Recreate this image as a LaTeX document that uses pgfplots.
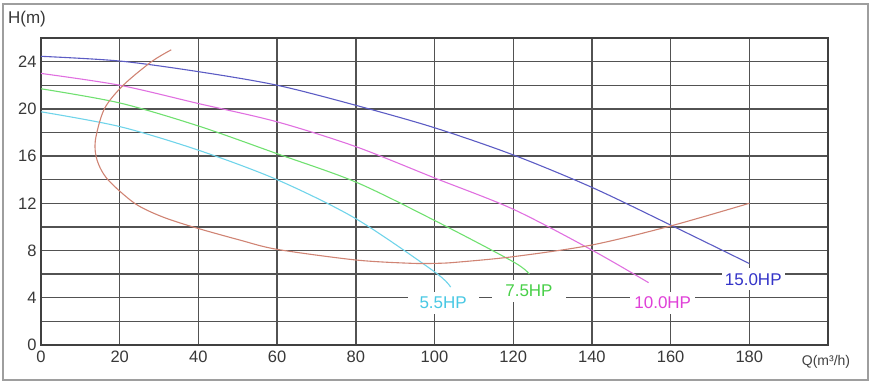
\documentclass[border=0pt]{standalone}
\usepackage{fontspec}
\setmainfont{Liberation Sans}
\usepackage{pgfplots}
\pgfplotsset{compat=1.18}
\usetikzlibrary{calc}
\definecolor{cA}{HTML}{5C5CC4}
\definecolor{cB}{HTML}{E070E0}
\definecolor{cC}{HTML}{70E070}
\definecolor{cD}{HTML}{70D4EA}
\definecolor{cE}{HTML}{D08474}
\definecolor{tA}{HTML}{3434C8}
\definecolor{tB}{HTML}{E040D8}
\definecolor{tC}{HTML}{48D048}
\definecolor{tD}{HTML}{48C8E4}
\begin{document}
\begin{tikzpicture}
\begin{axis}[
  name=ax, scale only axis, width=787pt, height=307pt,
  xmin=0, xmax=200, ymin=0, ymax=26,
  xtick={0,20,...,180}, ytick={0,4,...,24}, minor ytick={2,6,...,26},
  grid=both,
  major grid style={draw=black!68, line width=1.4pt},
  minor grid style={draw=black!68, line width=1.4pt},
  axis line style={draw=black!75, line width=1.5pt},
  major tick length=0pt, minor tick length=0pt,
  tick label style={font=\fontsize{16.5}{18}\selectfont, text=black!78},
  /pgf/number format/assume math mode=true,
  xticklabel style={yshift=-2pt},
  yticklabel style={xshift=-1pt},
  clip=false,
]
\addplot[cA, line width=1.1pt, smooth] coordinates {(0,24.45) (20,24.05) (40,23.15) (60,22.0) (80,20.3) (100,18.4) (120,16.1) (140,13.35) (160,10.16) (180,6.9)};
\addplot[cB, line width=1.1pt, smooth] coordinates {(0,23.0) (20,22.0) (40,20.45) (60,18.9) (80,16.8) (100,14.15) (120,11.5) (140,8.04) (154.4,5.28)};
\addplot[cC, line width=1.1pt, smooth] coordinates {(0,21.7) (20,20.5) (40,18.55) (60,16.2) (80,13.8) (100,10.55) (120,7.05) (124.1,6.0)};
\addplot[cD, line width=1.1pt, smooth] coordinates {(0,19.75) (20,18.5) (40,16.5) (60,14.0) (80,10.7) (100,6.2) (104.1,4.9)};
\addplot[cE, line width=1.1pt, smooth] coordinates {(33.1,25.0) (28.1,24) (20.9,22) (16.1,20) (13.8,17.3) (14.3,15.6) (17.0,14) (23.8,12) (30.5,10.9) (38.6,10) (50.4,8.9) (60,8.1) (80,7.2) (94,6.92) (101,6.92) (106,7.02) (120,7.48) (140,8.47) (160,10.08) (180,12.0)};
\node[fill=white, text=tD, inner xsep=12pt, inner ysep=5pt, font=\fontsize{17}{19}\selectfont] at (axis cs:102.2,3.58) {5.5HP};
\node[fill=white, text=tC, inner xsep=13pt, inner ysep=5pt, font=\fontsize{17}{19}\selectfont] at (axis cs:124.0,4.6) {7.5HP};
\node[fill=white, text=tB, inner xsep=4pt, inner ysep=5pt, font=\fontsize{17}{19}\selectfont] at (axis cs:158.0,3.58) {10.0HP};
\node[fill=white, text=tA, inner xsep=3pt, inner ysep=5pt, font=\fontsize{17}{19}\selectfont] at (axis cs:181.0,5.56) {15.0HP};
\end{axis}
\node[font=\fontsize{17}{19}\selectfont, text=black!78] at ($(ax.north west)+(-14pt,19pt)$) {H(m)};
\node[font=\fontsize{14}{16}\selectfont, text=black!75] at ($(ax.south east)+(-2pt,-16.7pt)$) {Q(m³/h)};
\draw[black!38, line width=1.5pt] ($(ax.south west)+(-38pt,-35pt)$) rectangle ($(ax.north east)+(40pt,34pt)$);
\pgfresetboundingbox
\path ($(ax.south west)+(-41pt,-38pt)$) rectangle ($(ax.north east)+(44pt,38pt)$);
\end{tikzpicture}
\end{document}
